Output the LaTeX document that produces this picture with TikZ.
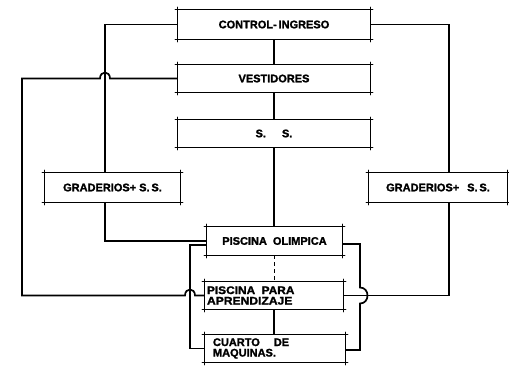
\documentclass[tikz,border=0pt]{standalone}
\usepackage{fontspec}
\setmainfont{Liberation Sans}
\newfontfamily\lblfont{Liberation Sans}[BoldFeatures={FakeBold=1.6}]
\usetikzlibrary{calc}
\newcommand\drbox[1]{\draw[boxl] ([xshift=-2.5pt]#1.north west) -- ([xshift=2.5pt]#1.north east) ([xshift=-2.5pt]#1.south west) -- ([xshift=2.5pt]#1.south east) ([yshift=2.5pt]#1.north west) -- ([yshift=-2.5pt]#1.south west) ([yshift=2.5pt]#1.north east) -- ([yshift=-2.5pt]#1.south east);}
\begin{document}
\begin{tikzpicture}[x=1pt,y=-1pt,
  lbl/.style={font=\lblfont\fontsize{11}{10.5}\selectfont\bfseries, inner sep=0pt, align=center},
  bx/.style 2 args={lbl, minimum width=#1, minimum height=#2},
  lbx/.style n args={3}{lbl, minimum height=#2, text width=#1-2*#3, inner xsep=#3, align=left},
  boxl/.style={line width=1.3pt, line cap=round},
  conn/.style={line width=1.7pt, line join=miter}]
\useasboundingbox (0,0) rectangle (509,368);
\fill[white] (0,0) rectangle (509,368);
% boxes
\node[bx={192pt}{29pt}] (ctrl) at (274,24.5) {CONTROL-\,INGRESO};
\node[bx={192pt}{27pt}] (vest) at (274,78.5) {VESTIDORES};
\node[bx={192pt}{27pt}] (ss) at (274,133.5) {S.\hspace{16pt}S.};
\node[bx={135pt}{29pt}] (gl) at (112.5,187.5) {GRADERIOS+ S.\,S.};
\node[bx={138pt}{29pt}] (gr) at (438,187.5) {GRADERIOS+\hspace{8pt}S.\,S.};
\node[bx={135pt}{28pt}] (po) at (274.5,241) {PISCINA\hspace{6pt}OLIMPICA};
\node[lbx={138pt}{27pt}{2pt}] (pa) at (274,295.5) {\scalebox{1.08}[1]{PISCINA\hspace{6pt}PARA}\\\scalebox{1.1}[1]{APRENDIZAJE}};
\node[lbx={140pt}{27pt}{8pt}] (cm) at (275,348.5) {CUARTO\hspace{14pt}DE\\MAQUINAS.};
\foreach \n in {ctrl,vest,ss,gl,gr,po,pa,cm} {\drbox{\n}}
% helper coordinates
\coordinate (lx) at (105,0);
\coordinate (rx) at (449,0);
\coordinate (farl) at (22,0);
\coordinate (bl) at (190,0);
\coordinate (br) at (360,0);
\coordinate (h1) at (lx |- vest.west);
\coordinate (h2) at (bl |- pa.west);
\coordinate (h3) at (br |- pa.east);
% central spine
\draw[conn] (ctrl.south) -- (vest.north);
\draw[conn] (vest.south) -- (ss.north);
\draw[conn] (ss.south) -- (ss.south |- po.north);
\draw[conn, dash pattern=on 4pt off 3pt] (po.south) -- (po.south |- pa.north);
\draw[conn] (pa.south) -- (pa.south |- cm.north);
% left side
\draw[conn] (ctrl.west) -| (lx |- gl.north);
\draw[conn] (vest.west) -- ($(h1)+(5,0)$) .. controls ($(h1)+(5,-8)$) and ($(h1)+(-5,-8)$) .. ($(h1)+(-5,0)$)
  -- (farl |- vest.west) -- (farl |- pa.west) -- ($(h2)+(-5,0)$)
  .. controls ($(h2)+(-5,-8)$) and ($(h2)+(5,-8)$) .. ($(h2)+(5,0)$) -- (pa.west);
\draw[conn] (lx |- gl.south) |- (po.west);
\draw[conn] ($(po.west)+(0,4)$) -| (bl |- cm.west) -- (cm.west);
% right side
\draw[conn] (ctrl.east) -| (rx |- gr.north);
\draw[conn] (rx |- gr.south) |- (pa.east);
\draw[conn] ($(po.east)+(0,3)$) -| ($(h3)+(0,-8)$) .. controls ($(h3)+(10,-8)$) and ($(h3)+(10,8)$) .. ($(h3)+(0,8)$)
  -- ($(br |- cm.east)+(0,1.5)$) -- ($(cm.east)+(0,1.5)$);
\end{tikzpicture}
\end{document}
